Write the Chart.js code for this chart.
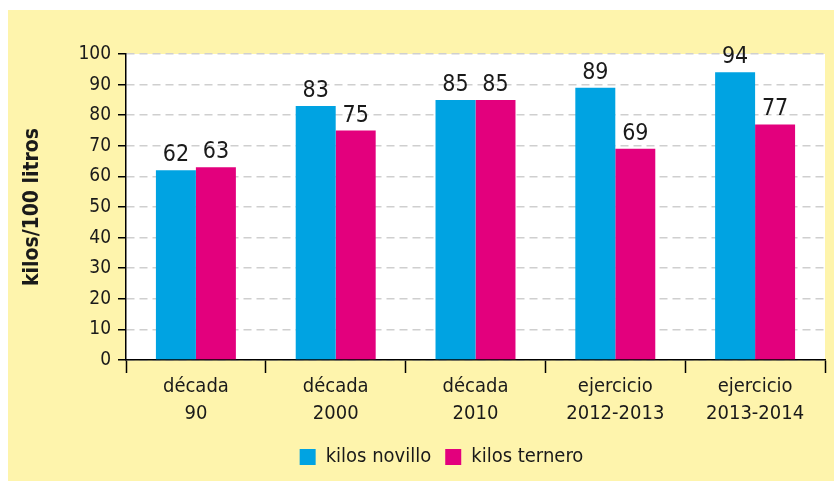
<!DOCTYPE html>
<html>
<head>
<meta charset="utf-8">
<script src="https://cdn.jsdelivr.net/npm/chart.js@4"></script>
<style>
html,body{margin:0;padding:0;background:#fff;}
canvas{display:block;}
</style>
</head>
<body>
<canvas id="c" width="834" height="481"></canvas>
<script>
const categories = [["década","90"],["década","2000"],["década","2010"],["ejercicio","2012-2013"],["ejercicio","2013-2014"]];
const seriesNames = ["kilos novillo","kilos ternero"];
const novillo = [62, 83, 85, 89, 94];
const ternero = [63, 75, 85, 69, 77];
const yTitle = "kilos/100 litros";

const FONT = "'DejaVu Sans Condensed','Liberation Sans Narrow',sans-serif";
const TEXT = "#1a1a1a";

const bgPlugin = {
  id: 'bg',
  beforeDraw(chart) {
    const {ctx, chartArea: a} = chart;
    ctx.save();
    ctx.fillStyle = '#ffffff';
    ctx.fillRect(0, 0, chart.width, chart.height);
    ctx.fillStyle = '#FEF4AC';
    ctx.fillRect(8, 10, chart.width - 8, chart.height - 10);
    ctx.fillStyle = '#ffffff';
    ctx.fillRect(a.left, a.top, a.right - a.left, a.bottom - a.top);
    ctx.restore();
  }
};

const labelPlugin = {
  id: 'vals',
  afterDatasetsDraw(chart) {
    const ctx = chart.ctx;
    ctx.save();
    ctx.font = "23px " + FONT;
    ctx.fillStyle = TEXT;
    ctx.textAlign = 'center';
    ctx.textBaseline = 'alphabetic';
    chart.data.datasets.forEach((ds, i) => {
      chart.getDatasetMeta(i).data.forEach((bar, j) => {
        ctx.fillText(String(ds.data[j]), bar.x, bar.y - 9);
      });
    });
    ctx.restore();
  }
};

new Chart(document.getElementById('c'), {
  type: 'bar',
  data: {
    labels: categories,
    datasets: [
      {label: seriesNames[0], data: novillo, backgroundColor: '#00A3E2', categoryPercentage: 0.572, barPercentage: 1.0},
      {label: seriesNames[1], data: ternero, backgroundColor: '#E3007D', categoryPercentage: 0.572, barPercentage: 1.0}
    ]
  },
  options: {
    responsive: false,
    animation: false,
    devicePixelRatio: 1,
    layout: {padding: {left: 58, right: 9, top: 54, bottom: 4}},
    plugins: {
      tooltip: {enabled: false},
      legend: {
        position: 'bottom',
        labels: {
          font: {family: FONT, size: 20},
          color: TEXT,
          boxWidth: 16,
          boxHeight: 16,
          padding: 14
        }
      }
    },
    scales: {
      x: {
        grid: {display: true, drawOnChartArea: false, drawTicks: true, tickLength: 13, tickColor: '#000', tickWidth: 1.5, offset: true},
        border: {display: true, color: '#000', width: 1.5},
        ticks: {font: {family: FONT, size: 20, lineHeight: 1.35}, color: TEXT, padding: 0, maxRotation: 0, autoSkip: false},
        afterFit(s) { s.height = 73; }
      },
      y: {
        min: 0, max: 100,
        ticks: {stepSize: 10, autoSkip: false, font: {family: FONT, size: 19}, color: TEXT, padding: 7},
        grid: {color: '#cfcfcf', lineWidth: 1.5, drawTicks: true, tickLength: 8, tickColor: '#000', tickWidth: 1.5, tickBorderDash: []},
        border: {display: true, color: '#000', width: 1.5, dash: [8, 5]},
        title: {display: true, text: yTitle, font: {family: FONT, size: 21, weight: 'bold', lineHeight: 1.2}, color: TEXT, padding: {top: -38, bottom: 0}},
        afterFit(s) { s.width = 68; }
      }
    }
  },
  plugins: [bgPlugin, labelPlugin]
});
</script>
</body>
</html>
